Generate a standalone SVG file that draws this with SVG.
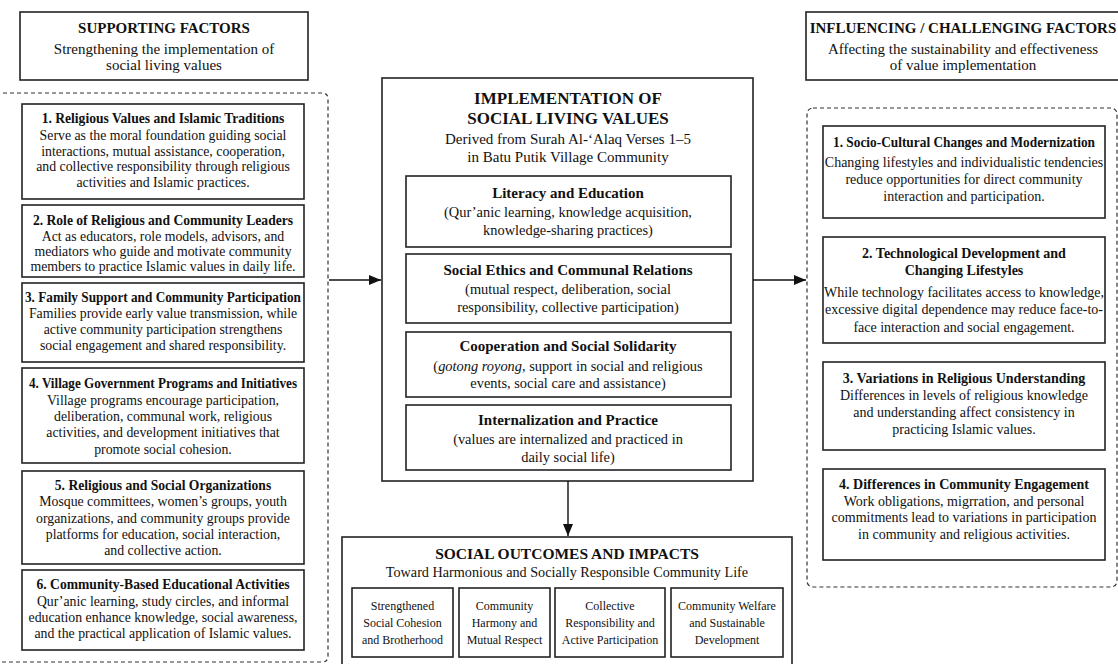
<svg xmlns="http://www.w3.org/2000/svg" width="1118" height="664" viewBox="0 0 1118 664">
<defs>
<style>
.bx{fill:#fff;stroke:#222;stroke-width:1.6}
.dash{fill:none;stroke:#333;stroke-width:1.2;stroke-dasharray:4 3}
text{font-family:"Liberation Serif","Times New Roman",serif;fill:#111;text-anchor:middle}
.h{font-size:15px;font-weight:bold}
.hs{font-size:15px}
.t{font-size:14px;font-weight:bold}
.lt{font-size:13.6px;font-weight:bold}
.b{font-size:14px}
.lb{font-size:13.8px}
.ct{font-size:15px;font-weight:bold}
.cb{font-size:14.4px}
.mt{font-size:17px;font-weight:bold}
.s{font-size:12px}
.con{stroke:#111;stroke-width:1.4;fill:none}
</style>
<marker id="ah" viewBox="0 0 12 10" refX="12" refY="5" markerWidth="12" markerHeight="10" markerUnits="userSpaceOnUse" orient="auto">
<path d="M0,0 L12,5 L0,10 z" fill="#111"/>
</marker>
</defs>
<rect width="1118" height="664" fill="#fff"/>

<g id="supporting-header">
<rect class="bx" x="20" y="12" width="288" height="68"/>
<text class="h" x="164" y="33">SUPPORTING FACTORS</text>
<text class="hs" x="164" y="54">Strengthening the implementation of</text>
<text class="hs" x="164" y="70">social living values</text>
</g>

<g id="supporting-container">
<path class="dash" d="M-4,93 H322 Q328,93 328,99 V656 Q328,662 322,662 H-4"/>
</g>

<g id="s1">
<rect class="bx" x="22" y="104" width="282" height="95"/>
<text class="lt" x="163" y="123">1. Religious Values and Islamic Traditions</text>
<text class="lb" x="163" y="140">Serve as the moral foundation guiding social</text>
<text class="lb" x="163" y="156">interactions, mutual assistance, cooperation,</text>
<text class="lb" x="163" y="171">and collective responsibility through religious</text>
<text class="lb" x="163" y="187">activities and Islamic practices.</text>
</g>
<g id="s2">
<rect class="bx" x="22" y="205" width="282" height="72"/>
<text class="lt" x="163" y="225">2. Role of Religious and Community Leaders</text>
<text class="lb" x="163" y="241">Act as educators, role models, advisors, and</text>
<text class="lb" x="163" y="256">mediators who guide and motivate community</text>
<text class="lb" x="163" y="271">members to practice Islamic values in daily life.</text>
</g>
<g id="s3">
<rect class="bx" x="22" y="283" width="282" height="79"/>
<text class="lt" x="163" y="302" textLength="276" lengthAdjust="spacingAndGlyphs">3. Family Support and Community Participation</text>
<text class="lb" x="163" y="318">Families provide early value transmission, while</text>
<text class="lb" x="163" y="334">active community participation strengthens</text>
<text class="lb" x="163" y="350">social engagement and shared responsibility.</text>
</g>
<g id="s4">
<rect class="bx" x="22" y="368" width="282" height="95"/>
<text class="lt" x="163" y="388" textLength="268" lengthAdjust="spacingAndGlyphs">4. Village Government Programs and Initiatives</text>
<text class="lb" x="163" y="405">Village programs encourage participation,</text>
<text class="lb" x="163" y="421">deliberation, communal work, religious</text>
<text class="lb" x="163" y="437">activities, and development initiatives that</text>
<text class="lb" x="163" y="454">promote social cohesion.</text>
</g>
<g id="s5">
<rect class="bx" x="22" y="471" width="282" height="93"/>
<text class="lt" x="163" y="490">5. Religious and Social Organizations</text>
<text class="lb" x="163" y="506">Mosque committees, women’s groups, youth</text>
<text class="lb" x="163" y="523">organizations, and community groups provide</text>
<text class="lb" x="163" y="539">platforms for education, social interaction,</text>
<text class="lb" x="163" y="555">and collective action.</text>
</g>
<g id="s6">
<rect class="bx" x="22" y="570" width="282" height="80"/>
<text class="lt" x="163" y="589">6. Community-Based Educational Activities</text>
<text class="lb" x="163" y="606">Qur’anic learning, study circles, and informal</text>
<text class="lb" x="163" y="622">education enhance knowledge, social awareness,</text>
<text class="lb" x="163" y="638">and the practical application of Islamic values.</text>
</g>

<g id="implementation">
<rect class="bx" x="382" y="78" width="371" height="403"/>
<text class="mt" x="568" y="104">IMPLEMENTATION OF</text>
<text class="mt" x="568" y="124">SOCIAL LIVING VALUES</text>
<text class="hs" x="568" y="144">Derived from Surah Al-‘Alaq Verses 1–5</text>
<text class="hs" x="568" y="162">in Batu Putik Village Community</text>
</g>
<g id="c1">
<rect class="bx" x="406" y="176" width="325" height="71"/>
<text class="ct" x="568" y="198">Literacy and Education</text>
<text class="cb" x="568" y="217">(Qur’anic learning, knowledge acquisition,</text>
<text class="cb" x="568" y="235">knowledge-sharing practices)</text>
</g>
<g id="c2">
<rect class="bx" x="406" y="254" width="325" height="69"/>
<text class="ct" x="568" y="275">Social Ethics and Communal Relations</text>
<text class="cb" x="568" y="294">(mutual respect, deliberation, social</text>
<text class="cb" x="568" y="312">responsibility, collective participation)</text>
</g>
<g id="c3">
<rect class="bx" x="406" y="332" width="325" height="65"/>
<text class="ct" x="568" y="351">Cooperation and Social Solidarity</text>
<text class="cb" x="568" y="371">(<tspan font-style="italic">gotong royong</tspan>, support in social and religious</text>
<text class="cb" x="568" y="388">events, social care and assistance)</text>
</g>
<g id="c4">
<rect class="bx" x="406" y="405" width="325" height="65"/>
<text class="ct" x="568" y="425">Internalization and Practice</text>
<text class="cb" x="568" y="444">(values are internalized and practiced in</text>
<text class="cb" x="568" y="462">daily social life)</text>
</g>

<g id="outcomes">
<rect class="bx" x="342" y="537" width="450" height="135"/>
<text x="567" y="558.5" style="font-size:15.5px;font-weight:bold">SOCIAL OUTCOMES AND IMPACTS</text>
<text x="567" y="577" style="font-size:14.2px">Toward Harmonious and Socially Responsible Community Life</text>
</g>
<g id="o1">
<rect class="bx" x="352" y="588" width="101" height="69"/>
<text class="s" x="402.5" y="610">Strengthened</text>
<text class="s" x="402.5" y="627">Social Cohesion</text>
<text class="s" x="402.5" y="644">and Brotherhood</text>
</g>
<g id="o2">
<rect class="bx" x="459" y="588" width="91" height="69"/>
<text class="s" x="504.5" y="610">Community</text>
<text class="s" x="504.5" y="627">Harmony and</text>
<text class="s" x="504.5" y="644">Mutual Respect</text>
</g>
<g id="o3">
<rect class="bx" x="555" y="588" width="110" height="69"/>
<text class="s" x="610" y="610">Collective</text>
<text class="s" x="610" y="627">Responsibility and</text>
<text class="s" x="610" y="644">Active Participation</text>
</g>
<g id="o4">
<rect class="bx" x="671" y="588" width="112" height="69"/>
<text class="s" x="727" y="610">Community Welfare</text>
<text class="s" x="727" y="627">and Sustainable</text>
<text class="s" x="727" y="644">Development</text>
</g>

<g id="influencing-header">
<rect class="bx" x="806" y="12" width="320" height="68"/>
<text class="h" x="963" y="33">INFLUENCING / CHALLENGING FACTORS</text>
<text class="hs" x="963" y="54">Affecting the sustainability and effectiveness</text>
<text class="hs" x="963" y="70">of value implementation</text>
</g>

<g id="influencing-container">
<rect class="dash" x="807" y="108" width="310" height="479" rx="6"/>
</g>

<g id="r1">
<rect class="bx" x="823" y="126" width="282" height="92"/>
<text class="t" x="964" y="147" textLength="262" lengthAdjust="spacingAndGlyphs">1. Socio-Cultural Changes and Modernization</text>
<text class="b" x="964" y="167">Changing lifestyles and individualistic tendencies</text>
<text class="b" x="964" y="184">reduce opportunities for direct community</text>
<text class="b" x="964" y="201">interaction and participation.</text>
</g>
<g id="r2">
<rect class="bx" x="823" y="237" width="282" height="106"/>
<text class="t" x="964" y="258">2. Technological Development and</text>
<text class="t" x="964" y="275">Changing Lifestyles</text>
<text class="b" x="964" y="297">While technology facilitates access to knowledge,</text>
<text class="b" x="964" y="314">excessive digital dependence may reduce face-to-</text>
<text class="b" x="964" y="332">face interaction and social engagement.</text>
</g>
<g id="r3">
<rect class="bx" x="823" y="362" width="282" height="88"/>
<text class="t" x="964" y="383">3. Variations in Religious Understanding</text>
<text class="b" x="964" y="400">Differences in levels of religious knowledge</text>
<text class="b" x="964" y="417">and understanding affect consistency in</text>
<text class="b" x="964" y="434">practicing Islamic values.</text>
</g>
<g id="r4">
<rect class="bx" x="823" y="469" width="282" height="91"/>
<text class="t" x="964" y="489">4. Differences in Community Engagement</text>
<text class="b" x="964" y="506">Work obligations, migrration, and personal</text>
<text class="b" x="964" y="522">commitments lead to variations in participation</text>
<text class="b" x="964" y="539">in community and religious activities.</text>
</g>

<g id="connectors">
<line class="con" x1="329" y1="280" x2="381" y2="280" marker-end="url(#ah)"/>
<line class="con" x1="753" y1="280" x2="806" y2="280" marker-end="url(#ah)"/>
<line class="con" x1="568" y1="481" x2="568" y2="536" marker-end="url(#ah)"/>
</g>
</svg>
